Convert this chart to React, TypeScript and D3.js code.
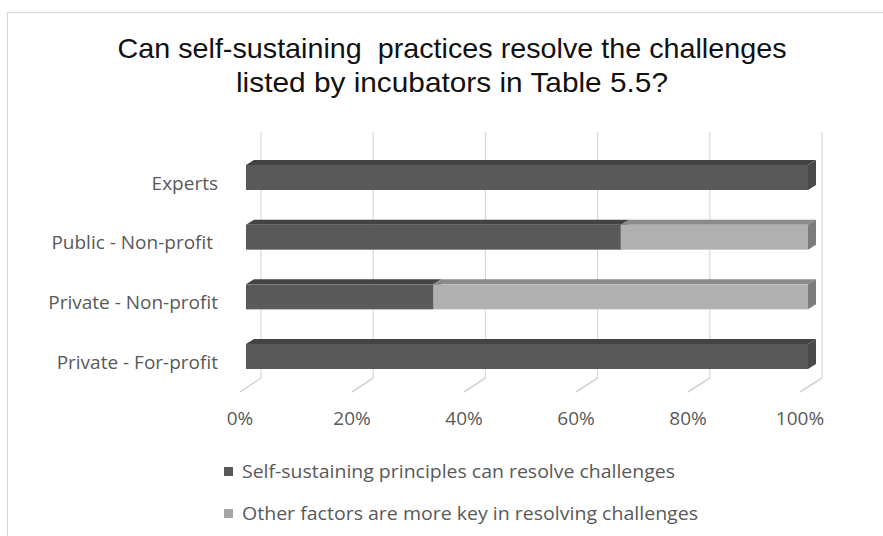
import React from "react";
import * as d3 from "d3";

const categories = ["Experts", "Public - Non-profit ", "Private - Non-profit", "Private - For-profit"];
const selfSustaining = [1.0, 0.667, 0.333, 1.0];
const otherFactors = [0.0, 0.333, 0.667, 0.0];
const seriesNames = [
  "Self-sustaining principles can resolve challenges",
  "Other factors are more key in resolving challenges",
];
const ticks = [0, 0.2, 0.4, 0.6, 0.8, 1.0];
const titleLines = [
  "Can self-sustaining  practices resolve the challenges",
  "listed by incubators in Table 5.5?",
];

const W = 883;
const H = 536;

const darkCol = { front: "#595959", top: "#434343", side: "#4a4a4a" };
const lightCol = { front: "#b0b0b0", top: "#8a8a8a", side: "#7c7c7c" };

export default function App() {
  const barX = d3.scaleLinear().domain([0, 1]).range([246, 808]);
  const frontX = d3.scaleLinear().domain([0, 1]).range([240, 800]);
  const backX = d3.scaleLinear().domain([0, 1]).range([261, 822]);
  const yCenter = d3.scalePoint<string>().domain(categories).range([177.5, 356.5]);
  const barH = 25;
  const dx = 8;
  const dy = -5;
  const wallTop = 132;
  const floorBack = 378;
  const floorFront = 392;
  const fmt = d3.format(".0%");

  const segs: { x0: number; x1: number; yt: number; col: typeof darkCol; key: string }[] = [];
  categories.forEach((c, i) => {
    const yt = (yCenter(c) as number) - barH / 2;
    const a = selfSustaining[i];
    const b = otherFactors[i];
    if (a > 0) segs.push({ x0: barX(0), x1: barX(a), yt, col: darkCol, key: c + "a" });
    if (b > 0) segs.push({ x0: barX(a), x1: barX(a + b), yt, col: lightCol, key: c + "b" });
  });

  const line = d3.line();

  return (
    <svg
      width={W}
      height={H}
      style={{ position: "absolute", left: 0, top: 0, background: "#fff" }}
    >
      <rect x={7.5} y={12.5} width={1000} height={1000} fill="#fff" stroke="#d9d9d9" strokeWidth={1.2} />

      {titleLines.map((t, i) => (
        <text
          key={i}
          x={452}
          y={58 + i * 34}
          textAnchor="middle"
          fontFamily="Liberation Sans, Arial, sans-serif"
          fontSize={28}
          fill="#111"
          textLength={i === 0 ? 669 : 432}
          lengthAdjust="spacingAndGlyphs"
          style={{ whiteSpace: "pre" }}
        >
          {t}
        </text>
      ))}

      {/* back wall gridlines */}
      {ticks.map((t) => (
        <line
          key={"g" + t}
          x1={backX(t)}
          x2={backX(t)}
          y1={wallTop}
          y2={floorBack}
          stroke="#d9d9d9"
          strokeWidth={1.2}
        />
      ))}
      {/* floor diagonals */}
      {ticks.map((t) => (
        <path
          key={"f" + t}
          d={line([[frontX(t), floorFront], [backX(t), floorBack]]) as string}
          stroke="#d4d4d4"
          strokeWidth={1.5}
          fill="none"
        />
      ))}

      {/* bars */}
      {segs.map((s) => {
        const yb = s.yt + barH;
        const top = [[s.x0, s.yt], [s.x1, s.yt], [s.x1 + dx, s.yt + dy], [s.x0 + dx, s.yt + dy]] as [number, number][];
        const side = [[s.x1, s.yt], [s.x1 + dx, s.yt + dy], [s.x1 + dx, yb + dy], [s.x1, yb]] as [number, number][];
        return (
          <g key={s.key}>
            <path d={(line(top) as string) + "Z"} fill={s.col.top} />
            <path d={(line(side) as string) + "Z"} fill={s.col.side} />
            <rect x={s.x0} y={s.yt} width={s.x1 - s.x0} height={barH} fill={s.col.front} />
          </g>
        );
      })}

      {/* category labels */}
      {categories.map((c) => (
        <text
          key={"c" + c}
          x={218}
          y={(yCenter(c) as number) + 12}
          textAnchor="end"
          fontFamily="Open Sans, sans-serif"
          fontSize={19}
          fill="#595959"
          style={{ whiteSpace: "pre" }}
        >
          {c}
        </text>
      ))}

      {/* tick labels */}
      {ticks.map((t) => (
        <text
          key={"t" + t}
          x={frontX(t)}
          y={425}
          textAnchor="middle"
          fontFamily="Open Sans, sans-serif"
          fontSize={19}
          fill="#595959"
        >
          {fmt(t)}
        </text>
      ))}

      {/* legend */}
      {seriesNames.map((n, i) => (
        <g key={"l" + i}>
          <rect x={224} y={467 + i * 42} width={9} height={9} fill={i === 0 ? darkCol.front : "#a6a6a6"} />
          <text
            x={242}
            y={478 + i * 42}
            fontFamily="Open Sans, sans-serif"
            fontSize={19}
            fill="#595959"
            textLength={i === 0 ? 433 : 456}
            lengthAdjust="spacingAndGlyphs"
          >
            {n}
          </text>
        </g>
      ))}
    </svg>
  );
}
